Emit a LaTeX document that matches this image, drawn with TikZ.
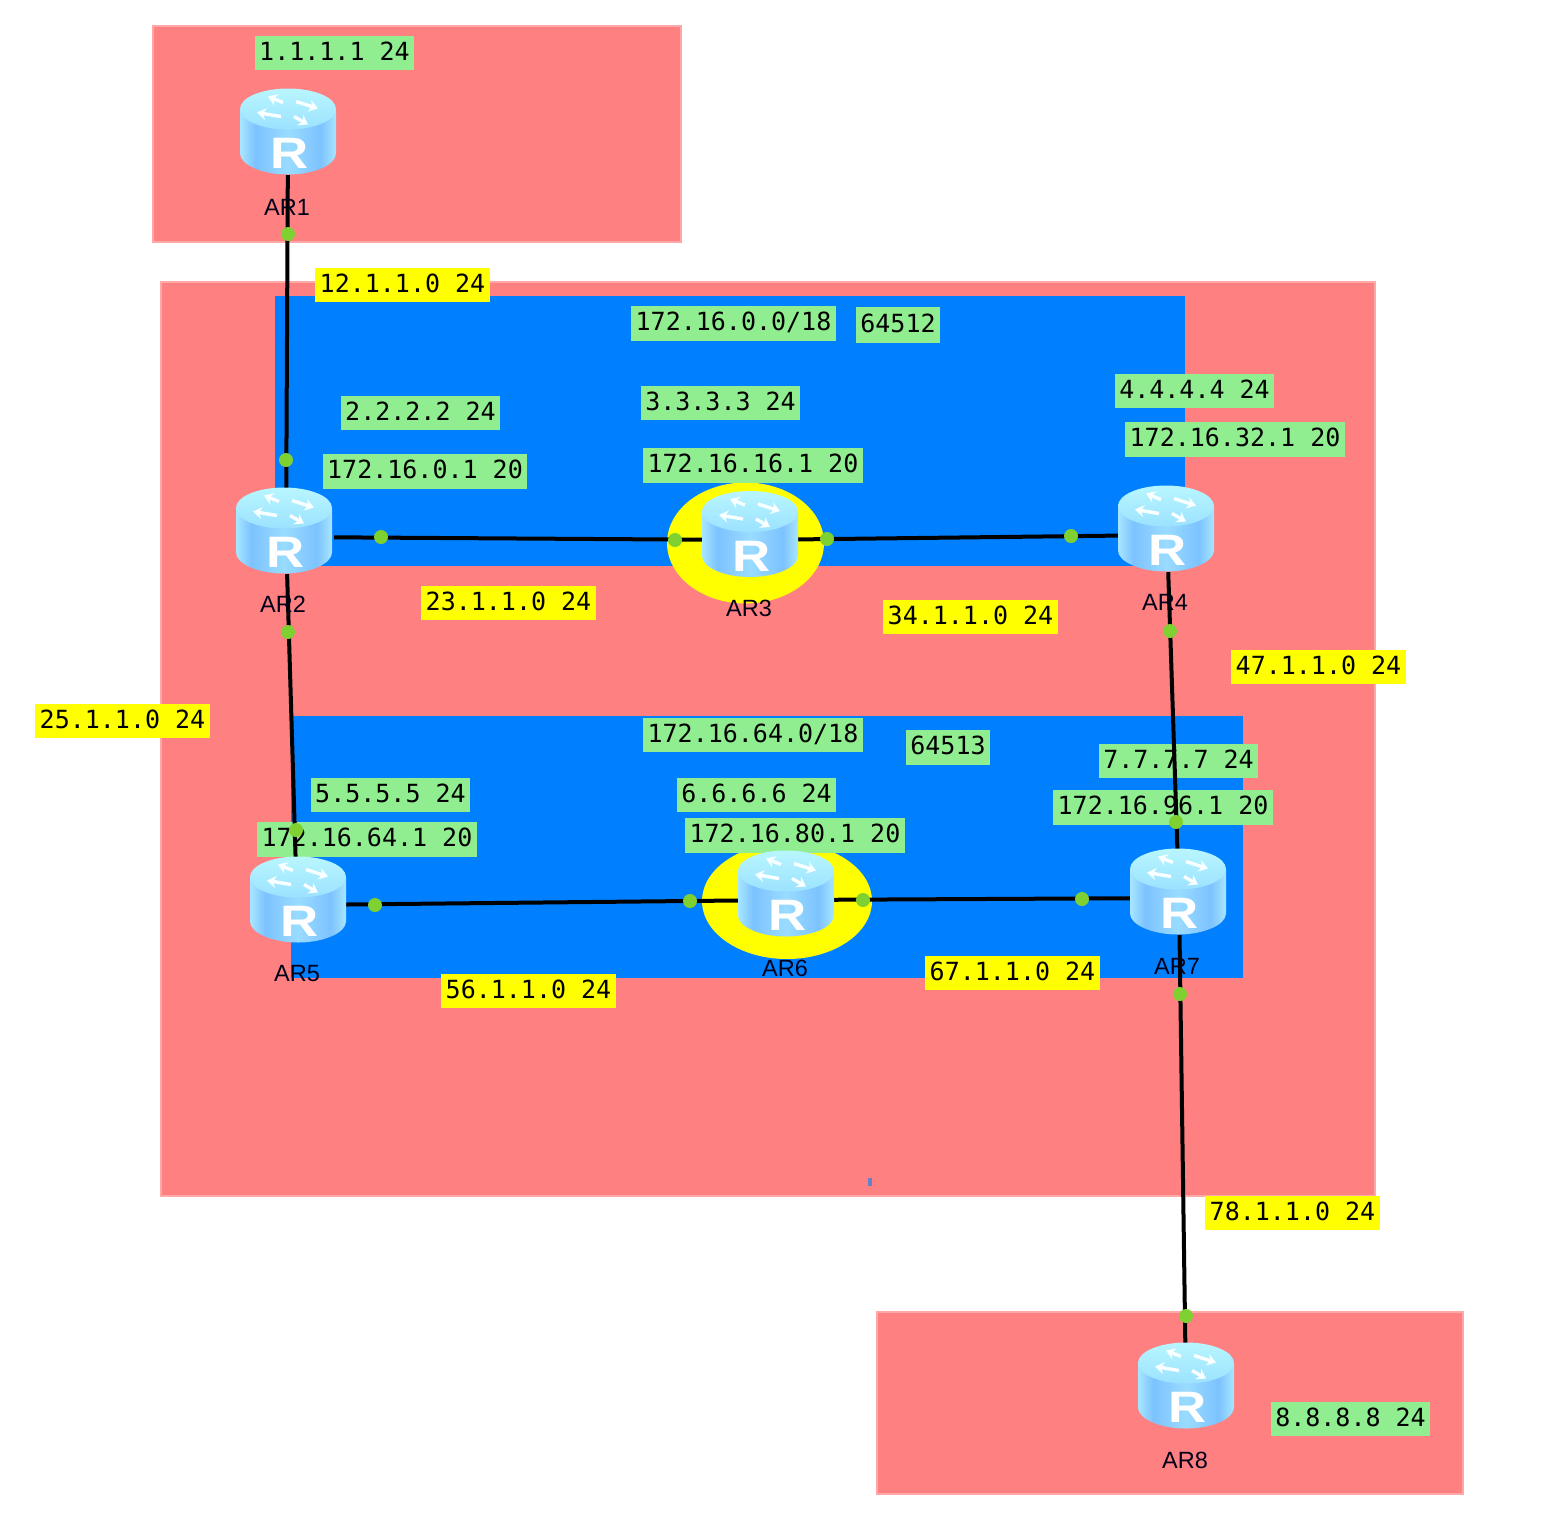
\documentclass[tikz,border=0pt]{standalone}
\usepackage{fontspec}
\setmainfont{Liberation Sans}
\newfontfamily\labfont{DejaVu Sans Mono}
\usetikzlibrary{arrows.meta}
\definecolor{zonered}{HTML}{FF8080}
\definecolor{zoneedge}{HTML}{FFA8A8}
\definecolor{zoneblue}{HTML}{0080FF}
\definecolor{labgreen}{HTML}{90EE90}
\definecolor{labyellow}{HTML}{FFFF00}
\definecolor{dotgreen}{HTML}{7FD132}
\definecolor{rbA}{HTML}{A8E6FF}
\definecolor{rbB}{HTML}{7CC2FF}
\definecolor{rbC}{HTML}{9ADCFF}
\definecolor{rtA}{HTML}{B8F6FF}
\definecolor{rtB}{HTML}{9CE2FF}
\pgfdeclarehorizontalshading{routerbody}{100bp}{color(0bp)=(rbA); color(25bp)=(rbA); color(33bp)=(rbB); color(50bp)=(rbC); color(67bp)=(rbB); color(75bp)=(rbA); color(100bp)=(rbA)}
\tikzset{
  zone/.style={fill=zonered,draw=zoneedge,line width=1.5pt},
  bluezone/.style={fill=zoneblue,draw=none},
  halo/.style={fill=labyellow,draw=none},
  lab/.style={font=\labfont\fontsize{25}{30}\selectfont,text=black,inner sep=0pt,text height=18pt,text depth=4pt,align=center},
  routerbox/.style={rectangle,minimum width=96pt,minimum height=74pt,inner sep=0pt,draw=none,fill=none},
  link/.style={draw=black,line width=4pt},
  portdot/.style={circle,fill=dotgreen,draw=none,minimum size=14pt,inner sep=0pt},
  arname/.style={font=\fontsize{23.5}{28}\selectfont,text=black!90!blue,inner sep=0pt},
  arrowmark/.style={draw=white!92!rtA,line width=3.4pt,-{Stealth[length=9pt,width=12pt]}},
  routerpic/.pic={
    \begin{scope}[yshift=6pt]
    \shade[shading=routerbody] (-48,-22) -- (-48,22) .. controls (-48,33) and (-26.5,43) .. (0,43) .. controls (26.5,43) and (48,33) .. (48,22) -- (48,-22) -- cycle;
    \shade[top color=rtA,bottom color=rtB] (0,-22.5) circle[x radius=48pt,y radius=20.5pt];
    \draw[arrowmark] (-5,-29) -- (-20,-35);
    \draw[arrowmark] (8,-30) -- (30,-23);
    \draw[arrowmark] (-7,-15) -- (-31,-19);
    \draw[arrowmark] (6,-15) -- (20,-7);
    \node[text=white,inner sep=0pt,xscale=1.2,font=\bfseries\fontsize{44}{50}\selectfont] at (2,22) {R};
    \end{scope}
  }
}
\newcommand{\lbl}[7]{\node[lab,fill=#2,minimum width={(#5-#3)*1pt},minimum height={(#6-#4)*1pt}] (#1) at ({(#3+#5)/2-1},{(#4+#6)/2}) {#7};}
\begin{document}
\begin{tikzpicture}[x=1pt,y=-1pt]
\useasboundingbox (0,0) rectangle (1550,1516);
% zones
\path[zone] (153,26) rectangle (681,242);
\path[zone] (161,282) rectangle (1375,1196);
\path[zone] (877,1312) rectangle (1463,1494);
\path[bluezone] (275,296) rectangle (1185,566);
\path[bluezone] (291,716) rectangle (1243,978);
\path[fill=zoneblue!60!zonered] (868,1178) rectangle (872,1186);
% halos
\path[halo] (745.5,543) ellipse[x radius=78.5pt,y radius=60.5pt];
\path[halo] (787,901) ellipse[x radius=85pt,y radius=58pt];
% green labels
\lbl{g1}{labgreen}{256}{36}{415}{70}{1.1.1.1 24}
\lbl{g2}{labgreen}{632}{306}{837}{341}{172.16.0.0/18}
\lbl{g3}{labgreen}{857}{307}{941}{343}{64512}
\lbl{g4}{labgreen}{342}{396}{501}{430}{2.2.2.2 24}
\lbl{g5}{labgreen}{642}{386}{801}{420}{3.3.3.3 24}
\lbl{g6}{labgreen}{1116}{374}{1275}{408}{4.4.4.4 24}
\lbl{g7}{labgreen}{1126}{422}{1346}{457}{172.16.32.1 20}
\lbl{g8}{labgreen}{324}{454}{528}{489}{172.16.0.1 20}
\lbl{g9}{labgreen}{644}{448}{864}{483}{172.16.16.1 20}
\lbl{g10}{labgreen}{644}{718}{864}{752}{172.16.64.0/18}
\lbl{g11}{labgreen}{907}{730}{991}{765}{64513}
\lbl{g12}{labgreen}{1100}{744}{1259}{778}{7.7.7.7 24}
\lbl{g13}{labgreen}{1054}{790}{1274}{825}{172.16.96.1 20}
\lbl{g14}{labgreen}{312}{778}{471}{812}{5.5.5.5 24}
\lbl{g15}{labgreen}{678}{778}{837}{812}{6.6.6.6 24}
\lbl{g16}{labgreen}{258}{822}{478}{857}{172.16.64.1 20}
\lbl{g17}{labgreen}{686}{818}{906}{853}{172.16.80.1 20}
\lbl{g18}{labgreen}{1272}{1402}{1431}{1436}{8.8.8.8 24}
% yellow labels
\lbl{y1}{labyellow}{316}{268}{491}{302}{12.1.1.0 24}
\lbl{y2}{labyellow}{422}{586}{597}{620}{23.1.1.0 24}
\lbl{y3}{labyellow}{884}{600}{1059}{634}{34.1.1.0 24}
\lbl{y4}{labyellow}{1232}{650}{1407}{684}{47.1.1.0 24}
\lbl{y5}{labyellow}{36}{704}{211}{738}{25.1.1.0 24}
\lbl{y6}{labyellow}{442}{974}{617}{1008}{56.1.1.0 24}
\lbl{y7}{labyellow}{926}{956}{1101}{990}{67.1.1.0 24}
\lbl{y8}{labyellow}{1206}{1196}{1381}{1230}{78.1.1.0 24}
% routers (anchors for the links)
\node[routerbox] (ar1) at (288,138) {};
\node[routerbox] (ar2) at (286,537) {};
\node[routerbox] (ar3) at (750,540) {};
\node[routerbox] (ar4) at (1167,535) {};
\node[routerbox] (ar5) at (297,905) {};
\node[routerbox] (ar6) at (786,900) {};
\node[routerbox] (ar7) at (1179,898) {};
\node[routerbox] (ar8) at (1186,1392) {};
% links
\draw[link] (ar1) -- (ar2);
\draw[link] (ar2) -- (ar3);
\draw[link] (ar3) -- (ar4);
\draw[link] (ar2) -- (ar5);
\draw[link] (ar4) -- (ar7);
\draw[link] (ar5) -- (ar6);
\draw[link] (ar6) -- (ar7);
\draw[link] (ar7) -- (ar8);
% port dots
\node[portdot] (d1) at (288,234) {};
\node[portdot] (d2) at (286,460) {};
\node[portdot] (d3) at (288,632) {};
\node[portdot] (d4) at (296,830) {};
\node[portdot] (d5) at (381,537) {};
\node[portdot] (d6) at (675,540) {};
\node[portdot] (d7) at (827,539) {};
\node[portdot] (d8) at (1071,536) {};
\node[portdot] (d9) at (1170,631) {};
\node[portdot] (d10) at (1176,822) {};
\node[portdot] (d11) at (375,905) {};
\node[portdot] (d12) at (690,901) {};
\node[portdot] (d13) at (863,900) {};
\node[portdot] (d14) at (1082,899) {};
\node[portdot] (d15) at (1180,994) {};
\node[portdot] (d16) at (1186,1316) {};
% router icons
\pic at ([yshift=0.5pt]ar1) {routerpic};
\pic at ([xshift=-2pt,yshift=0.5pt]ar2) {routerpic};
\pic at (ar3) {routerpic};
\pic at ([xshift=-1pt,yshift=0.5pt]ar4) {routerpic};
\pic at ([xshift=1pt,yshift=-0.5pt]ar5) {routerpic};
\pic at ([yshift=0.5pt]ar6) {routerpic};
\pic at ([xshift=-1pt,yshift=0.5pt]ar7) {routerpic};
\pic at ([yshift=0.5pt]ar8) {routerpic};
% router names
\node[arname] (n1) at (287,207) {AR1};
\node[arname] (n2) at (283,604) {AR2};
\node[arname] (n3) at (749,608) {AR3};
\node[arname] (n4) at (1165,602) {AR4};
\node[arname] (n5) at (297,974) {AR5};
\node[arname] (n6) at (785,968) {AR6};
\node[arname] (n7) at (1177,966) {AR7};
\node[arname] (n8) at (1185,1460) {AR8};
\end{tikzpicture}
\end{document}
